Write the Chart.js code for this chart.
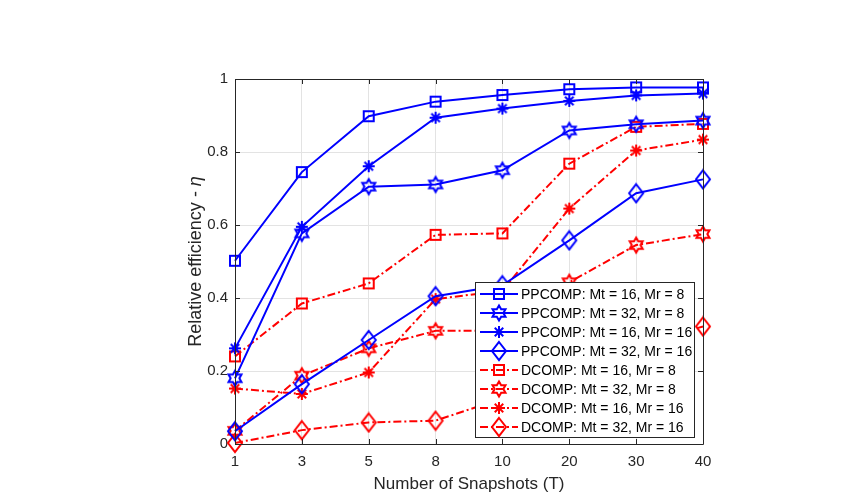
<!DOCTYPE html>
<html>
<head>
<meta charset="utf-8">
<script src="https://cdn.jsdelivr.net/npm/chart.js@4"></script>
<style>
  body { margin: 0; background: #fff; }
  canvas { display: block; }
</style>
</head>
<body>
<canvas id="chart" width="859" height="501"></canvas>
<script>
const xLabels = ["1", "3", "5", "8", "10", "20", "30", "40"];
const yTicks = [0, 0.2, 0.4, 0.6, 0.8, 1];

const ppcomp16_8 = [0.502, 0.745, 0.898, 0.938, 0.956, 0.972, 0.977, 0.977];
const ppcomp32_8 = [0.180, 0.577, 0.705, 0.711, 0.750, 0.859, 0.876, 0.886];
const ppcomp16_16 = [0.262, 0.595, 0.761, 0.894, 0.919, 0.940, 0.955, 0.960];
const ppcomp32_16 = [0.035, 0.164, 0.285, 0.405, 0.435, 0.558, 0.687, 0.725];
const dcomp16_8 = [0.240, 0.385, 0.440, 0.573, 0.577, 0.768, 0.869, 0.877];
const dcomp32_8 = [0.036, 0.187, 0.262, 0.310, 0.310, 0.443, 0.545, 0.575];
const dcomp16_16 = [0.152, 0.137, 0.196, 0.397, 0.420, 0.645, 0.804, 0.834];
const dcomp32_16 = [0.003, 0.038, 0.059, 0.064, 0.125, 0.200, 0.270, 0.322];

const BLUE = "#0000ff";
const RED = "#ff0000";
const AXIS = "#262626";
const FONT = "'Liberation Sans', Arial, Helvetica, sans-serif";

// marcadores estilo matlab, sem preenchimento
function makeMarker(shape, color) {
  const c = document.createElement("canvas");
  c.width = 22;
  c.height = 22;
  const g = c.getContext("2d");
  g.strokeStyle = color;
  g.lineWidth = 2;
  g.translate(11, 11);
  g.beginPath();
  if (shape === "square") {
    g.rect(-5, -5, 10, 10);
  } else if (shape === "diamond") {
    g.moveTo(0, -9); g.lineTo(7, 0); g.lineTo(0, 9); g.lineTo(-7, 0); g.closePath();
  } else if (shape === "asterisk") {
    for (let k = 0; k < 4; k++) {
      const a = k * Math.PI / 4;
      g.moveTo(Math.cos(a) * 6, Math.sin(a) * 6);
      g.lineTo(-Math.cos(a) * 6, -Math.sin(a) * 6);
    }
  } else if (shape === "hexagram") {
    const ro = 7.5, ri = ro / Math.sqrt(3);
    for (let k = 0; k < 12; k++) {
      const r = k % 2 === 0 ? ro : ri;
      const a = -Math.PI / 2 + k * Math.PI / 6;
      const px = Math.cos(a) * r, py = Math.sin(a) * r;
      if (k === 0) g.moveTo(px, py); else g.lineTo(px, py);
    }
    g.closePath();
  }
  g.stroke();
  return c;
}

function serie(label, data, color, shape, dashed) {
  return {
    label: label,
    data: data,
    borderColor: color,
    borderWidth: 2,
    borderDash: dashed ? [8, 3, 2, 3] : [],
    pointStyle: makeMarker(shape, color),
    pointRadius: 6,
    tension: 0,
    fill: false,
    clip: false
  };
}

const datasets = [
  serie("PPCOMP: Mt = 16, Mr = 8", ppcomp16_8, BLUE, "square", false),
  serie("PPCOMP: Mt = 32, Mr = 8", ppcomp32_8, BLUE, "hexagram", false),
  serie("PPCOMP: Mt = 16, Mr = 16", ppcomp16_16, BLUE, "asterisk", false),
  serie("PPCOMP: Mt = 32, Mr = 16", ppcomp32_16, BLUE, "diamond", false),
  serie("DCOMP: Mt = 16, Mr = 8", dcomp16_8, RED, "square", true),
  serie("DCOMP: Mt = 32, Mr = 8", dcomp32_8, RED, "hexagram", true),
  serie("DCOMP: Mt = 16, Mr = 16", dcomp16_16, RED, "asterisk", true),
  serie("DCOMP: Mt = 32, Mr = 16", dcomp32_16, RED, "diamond", true)
];

const matlabBox = {
  id: "matlabBox",
  afterDatasetsDraw(chart) {
    const { ctx, chartArea: a, scales } = chart;
    const x = scales.x, y = scales.y;
    ctx.save();

    // caixa e ticks para dentro
    ctx.strokeStyle = AXIS;
    ctx.lineWidth = 1;
    ctx.setLineDash([]);
    ctx.beginPath();
    xLabels.forEach((_, i) => {
      const px = Math.round(x.getPixelForValue(i)) + 0.5;
      ctx.moveTo(px, a.bottom); ctx.lineTo(px, a.bottom - 5);
      ctx.moveTo(px, a.top); ctx.lineTo(px, a.top + 5);
    });
    yTicks.forEach(v => {
      const py = Math.round(y.getPixelForValue(v)) + 0.5;
      ctx.moveTo(a.left, py); ctx.lineTo(a.left + 5, py);
      ctx.moveTo(a.right, py); ctx.lineTo(a.right - 5, py);
    });
    ctx.rect(Math.round(a.left) + 0.5, Math.round(a.top) + 0.5, Math.round(a.width), Math.round(a.height));
    ctx.stroke();

    // legenda
    const lx = 475.5, ly = 282.5, lw = 219, lh = 155;
    ctx.fillStyle = "#fff";
    ctx.fillRect(lx, ly, lw, lh);
    ctx.strokeStyle = AXIS;
    ctx.strokeRect(lx, ly, lw, lh);
    ctx.font = "14px " + FONT;
    ctx.textBaseline = "middle";
    ctx.textAlign = "left";
    chart.data.datasets.forEach((ds, i) => {
      const ry = 294 + i * 19;
      ctx.strokeStyle = ds.borderColor;
      ctx.lineWidth = 2;
      ctx.setLineDash(ds.borderDash);
      ctx.beginPath();
      ctx.moveTo(480, ry);
      ctx.lineTo(518, ry);
      ctx.stroke();
      ctx.setLineDash([]);
      const m = ds.pointStyle;
      ctx.drawImage(m, 499 - m.width / 2, ry - m.height / 2);
      ctx.fillStyle = "#000";
      ctx.fillText(ds.label, 521, ry + 1);
    });

    // titulo do eixo y com eta em italico
    const part1 = "Relative efficiency - ";
    const part2 = "\u03B7";
    ctx.translate(196, (a.top + a.bottom) / 2);
    ctx.rotate(-Math.PI / 2);
    ctx.fillStyle = AXIS;
    ctx.font = "18px " + FONT;
    const w1 = ctx.measureText(part1).width;
    ctx.font = "italic 18px " + FONT;
    const w2 = ctx.measureText(part2).width;
    const start = -(w1 + w2) / 2;
    ctx.font = "18px " + FONT;
    ctx.fillText(part1, start, 0);
    ctx.font = "italic 18px " + FONT;
    ctx.fillText(part2, start + w1, 0);
    ctx.restore();
  }
};

Chart.defaults.font.family = FONT;
Chart.defaults.color = AXIS;

new Chart(document.getElementById("chart"), {
  type: "line",
  data: { labels: xLabels, datasets: datasets },
  options: {
    responsive: false,
    animation: false,
    events: [],
    layout: { padding: { left: 0, top: 79, right: 156, bottom: 0 } },
    plugins: { legend: { display: false }, tooltip: { enabled: false } },
    scales: {
      x: {
        type: "category",
        offset: false,
        grid: { color: "#e3e3e3", drawTicks: false },
        border: { display: false },
        ticks: { font: { size: 15 }, padding: 9, color: AXIS, maxRotation: 0 },
        title: { display: true, text: "Number of Snapshots (T)", font: { size: 17 }, color: AXIS, padding: { top: 0, bottom: 6 } },
        afterFit(scale) { scale.height = 57; }
      },
      y: {
        min: 0,
        max: 1,
        grid: { color: "#e3e3e3", drawTicks: false },
        border: { display: false },
        ticks: { font: { size: 15 }, padding: 7, color: AXIS, callback: v => String(v) },
        afterBuildTicks(scale) { scale.ticks = yTicks.map(v => ({ value: v })); },
        afterFit(scale) { scale.width = 235; }
      }
    }
  },
  plugins: [matlabBox]
});
</script>
</body>
</html>
